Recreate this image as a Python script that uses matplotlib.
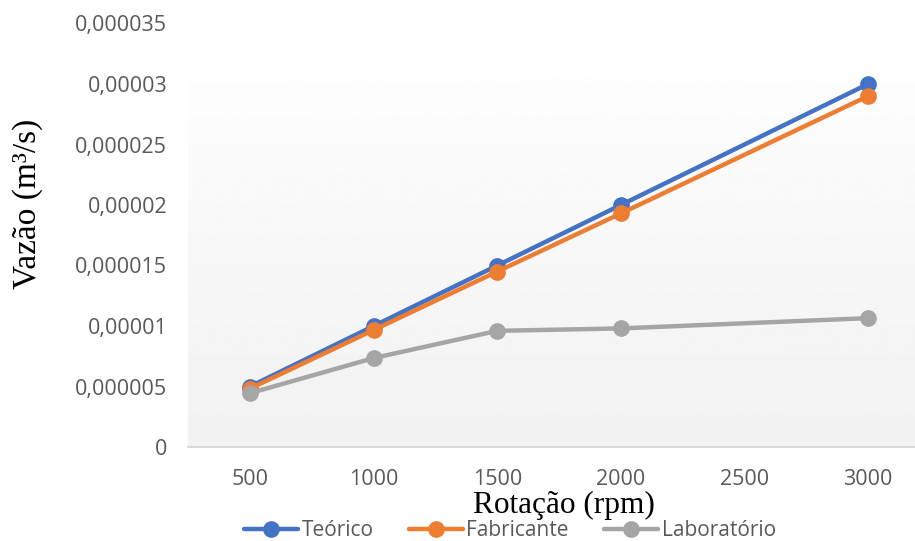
"""Vazão x rotação: teórico, fabricante e laboratório"""

import numpy as np
import matplotlib
matplotlib.use("Agg")
import matplotlib.pyplot as plt

rotacao = [500, 1000, 1500, 2000, 3000]
teorico = [5.0e-6, 1.0e-5, 1.5e-5, 2.0e-5, 3.0e-5]
fabricante = [4.83e-6, 9.67e-6, 1.45e-5, 1.93e-5, 2.90e-5]
laboratorio = [4.45e-6, 7.35e-6, 9.6e-6, 9.8e-6, 1.065e-5]

x_ticks = [500, 1000, 1500, 2000, 2500, 3000]
y_ticks = [0, 5e-6, 1e-5, 1.5e-5, 2e-5, 2.5e-5, 3e-5, 3.5e-5]
y_tick_labels = ["0", "0,000005", "0,00001", "0,000015", "0,00002",
                 "0,000025", "0,00003", "0,000035"]

W, H = 915, 541
fig = plt.figure(figsize=(W / 100, H / 100), dpi=100)
ax = fig.add_axes([188 / W, (H - 447) / H, 727 / W, 423.5 / H])
ax.set_facecolor("none")

# fundo em degradê só na área de plotagem (branco em cima, cinza embaixo)
grad_top = (447 - 78) / 423.5
grad = np.linspace(0.993, 0.945, 256).reshape(-1, 1)
ax.imshow(grad, cmap="gray", vmin=0, vmax=1, aspect="auto",
          extent=[0, 1, 0, grad_top], transform=ax.transAxes, zorder=0)

series = [("Teórico", teorico, "#4472C4"),
          ("Fabricante", fabricante, "#ED7D31"),
          ("Laboratório", laboratorio, "#A5A5A5")]
for label, vals, color in series:
    ax.plot(rotacao, vals, color=color, lw=3.2, marker="o", ms=11,
            label=label, zorder=3, solid_capstyle="round")

ax.set_xlim(249, 3190)
ax.set_ylim(0, 3.5e-5)
ax.set_xticks(x_ticks)
ax.set_yticks(y_ticks)
ax.set_yticklabels(y_tick_labels)

for s in ["top", "right", "left"]:
    ax.spines[s].set_visible(False)
ax.spines["bottom"].set_color("#D9D9D9")
ax.spines["bottom"].set_linewidth(1.5)
ax.tick_params(length=0, labelsize=15.5, labelcolor="#595959")
ax.tick_params(axis="y", pad=15)
ax.tick_params(axis="x", pad=16)
for lbl in ax.get_xticklabels() + ax.get_yticklabels():
    lbl.set_fontfamily("Open Sans")

fig.text(564 / W, 1 - 505 / H, "Rotação (rpm)", ha="center", va="center",
         fontsize=22.5, family="Liberation Serif")
fig.text(28 / W, 1 - 204 / H, "Vazão (m³/s)", ha="center", va="center",
         rotation=90, fontsize=24, family="Liberation Serif")

fig.legend(loc="center", bbox_to_anchor=(510 / W, 1 - 531 / H), ncol=3,
           frameon=False, handlelength=2.6, handletextpad=0.15,
           columnspacing=1.7, borderaxespad=0,
           prop={"family": "Open Sans", "size": 15}, labelcolor="#595959")

fig.savefig("out.png", dpi=100)
plt.close(fig)
